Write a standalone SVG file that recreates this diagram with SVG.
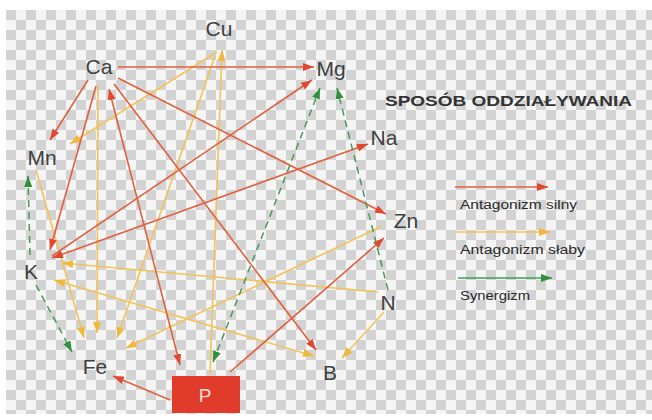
<svg xmlns="http://www.w3.org/2000/svg" width="652" height="420" viewBox="0 0 652 420">
<defs>
<pattern id="chk" x="6" y="10" width="20" height="20" patternUnits="userSpaceOnUse">
<rect width="20" height="20" fill="#f5f5f5"/>
<rect width="10" height="10" fill="#d3d3d3"/>
<rect x="10" y="10" width="10" height="10" fill="#d3d3d3"/>
</pattern>
<marker id="ar" markerWidth="11" markerHeight="8" refX="11" refY="4" orient="auto-start-reverse" markerUnits="userSpaceOnUse"><path d="M0,0 L11,4 L0,8 z" fill="#e2472f"/></marker>
<marker id="ay" markerWidth="11" markerHeight="8" refX="11" refY="4" orient="auto-start-reverse" markerUnits="userSpaceOnUse"><path d="M0,0 L11,4 L0,8 z" fill="#f0b83c"/></marker>
<marker id="ag" markerWidth="11" markerHeight="8" refX="11" refY="4" orient="auto-start-reverse" markerUnits="userSpaceOnUse"><path d="M0,0 L11,4 L0,8 z" fill="#2f8f3a"/></marker>
</defs>
<style>
.lbl{font-family:"Liberation Sans",Arial,sans-serif;font-size:21px;fill:#404040;text-anchor:middle}
.r{stroke:#e2603f;stroke-width:1.6;fill:none;marker-end:url(#ar)}
.y{stroke:#f3c35a;stroke-width:1.6;fill:none;marker-end:url(#ay)}
.g{stroke:#4a9a55;stroke-width:1.5;fill:none;stroke-dasharray:7 5;marker-end:url(#ag)}
.both-r{marker-start:url(#ar)}
.both-y{marker-start:url(#ay)}
.both-g{marker-start:url(#ag)}
.leg{font-family:"Liberation Sans",Arial,sans-serif;font-size:12px;fill:#2a2a2a}
.title{font-family:"Liberation Sans",Arial,sans-serif;font-size:15px;fill:#333;font-weight:bold}
</style>
<rect width="652" height="420" fill="#ffffff"/>
<rect x="6" y="10" width="646" height="404" fill="url(#chk)"/>
<g id="connectors">
<line class="y" x1="210" y1="374" x2="222" y2="50"/>
<line class="y" x1="217" y1="52" x2="70" y2="144"/>
<line class="y" x1="215" y1="56" x2="117" y2="338"/>
<line class="y" x1="98" y1="86" x2="97" y2="333"/>
<line class="y" x1="36" y1="170" x2="84" y2="338"/>
<line class="y" x1="382" y1="226" x2="126" y2="348"/>
<line class="y" x1="378" y1="292" x2="62" y2="263"/>
<line class="y both-y" x1="54" y1="280" x2="314" y2="356"/>
<line class="y" x1="384" y1="312" x2="342" y2="358"/>
<line class="r" x1="118" y1="67" x2="314" y2="67"/>
<line class="r" x1="88" y1="80" x2="50" y2="140"/>
<line class="r" x1="96" y1="86" x2="50" y2="250"/>
<line class="r both-r" x1="109" y1="89" x2="180" y2="365"/>
<line class="r" x1="114" y1="84" x2="316" y2="350"/>
<line class="r" x1="118" y1="78" x2="386" y2="214"/>
<line class="r" x1="52" y1="256" x2="312" y2="80"/>
<line class="r both-r" x1="52" y1="258" x2="368" y2="144"/>
<line class="r" x1="170" y1="400" x2="113" y2="376"/>
<line class="r" x1="230" y1="372" x2="384" y2="238"/>
<line class="g" x1="30" y1="255" x2="28" y2="176"/>
<line class="g" x1="36" y1="285" x2="72" y2="352"/>
<line class="g both-g" x1="213" y1="362" x2="320" y2="88"/>
<line class="g" x1="388" y1="290" x2="337" y2="88"/>
</g>
<g id="node-Cu"><text class="lbl" x="219" y="36">Cu</text></g>
<g id="node-Ca"><text class="lbl" x="99" y="74">Ca</text></g>
<g id="node-Mg"><text class="lbl" x="331" y="76">Mg</text></g>
<g id="node-Mn"><text class="lbl" x="42" y="165">Mn</text></g>
<g id="node-Na"><text class="lbl" x="384" y="145">Na</text></g>
<g id="node-Zn"><text class="lbl" x="406" y="228">Zn</text></g>
<g id="node-K"><text class="lbl" x="31" y="279">K</text></g>
<g id="node-N"><text class="lbl" x="388" y="310">N</text></g>
<g id="node-Fe"><text class="lbl" x="95" y="374">Fe</text></g>
<g id="node-B"><text class="lbl" x="330" y="380">B</text></g>
<g id="node-P"><rect x="172" y="376" width="68" height="37" fill="#e03b2b"/><text x="205" y="402" font-family="Liberation Sans,Arial,sans-serif" font-size="19" fill="#f8dcd4" text-anchor="middle">P</text></g>
<g id="legend">
<text class="title" x="385" y="106" textLength="247" lengthAdjust="spacingAndGlyphs">SPOSÓB ODDZIAŁYWANIA</text>
<line class="r" x1="455" y1="187" x2="548" y2="187"/>
<text class="leg" x="460" y="209" textLength="117" lengthAdjust="spacingAndGlyphs">Antagonizm silny</text>
<line class="y" x1="455" y1="232" x2="550" y2="232"/>
<text class="leg" x="460" y="254" textLength="125" lengthAdjust="spacingAndGlyphs">Antagonizm słaby</text>
<line x1="458" y1="278" x2="552" y2="278" stroke="#3aa05a" stroke-width="1.6" marker-end="url(#ag)"/>
<text class="leg" x="460" y="300" textLength="70" lengthAdjust="spacingAndGlyphs">Synergizm</text>
</g>
</svg>
